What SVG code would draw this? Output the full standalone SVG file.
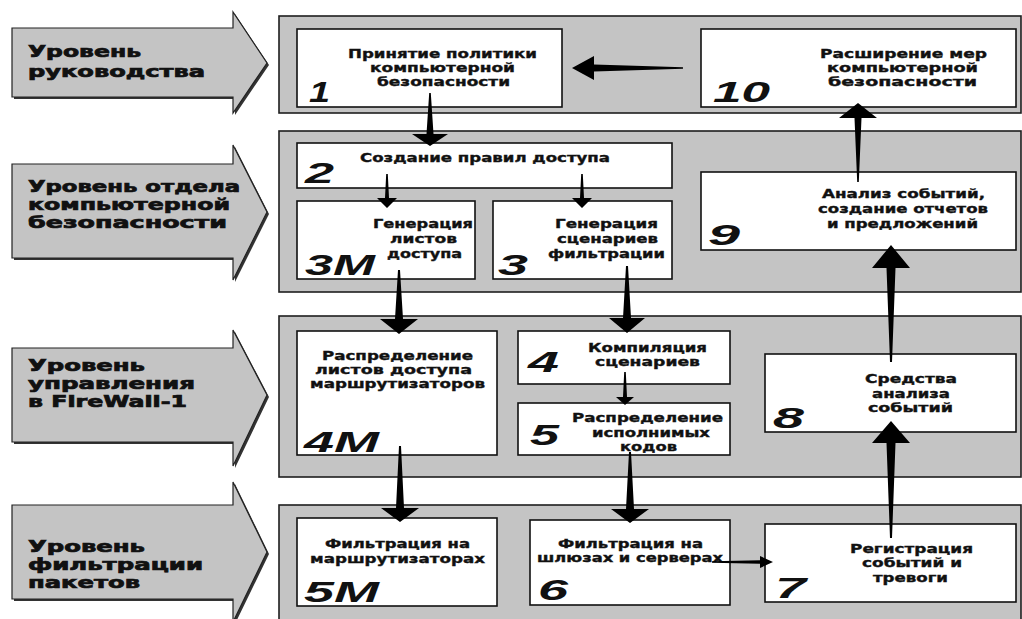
<svg xmlns="http://www.w3.org/2000/svg" width="1022" height="619" viewBox="0 0 1022 619">
<style>
.band{fill:#c4c4c4;stroke:#1e1e1e;stroke-width:1.6}
.box{fill:#ffffff;stroke:#111;stroke-width:1.6}
.lvl{fill:#c4c4c4;stroke:#222;stroke-width:1.2}
.shadow{fill:#333}
.lt{font-family:"DejaVu Sans",sans-serif;font-weight:bold;font-size:15px;fill:#111;stroke:#111;stroke-width:0.7}
.bt{font-family:"DejaVu Sans",sans-serif;font-weight:bold;font-size:11.5px;fill:#111;stroke:#111;stroke-width:0.35}
.num{font-family:"Liberation Sans",sans-serif;font-weight:bold;font-style:italic;font-size:30px;fill:#111}
.arr{fill:#000}
</style>
<rect width="1022" height="619" fill="#ffffff"/>

<!-- level bands -->
<g id="bands">
<rect class="band" x="279" y="16" width="742" height="97"/>
<rect class="band" x="279" y="131" width="742" height="161"/>
<rect class="band" x="279" y="316" width="742" height="161"/>
<rect class="band" x="279" y="505" width="742" height="120"/>
</g>

<!-- level arrows -->
<g id="level1">
<polygon class="shadow" points="14,30 235,30 235,14 269,65 235,115 235,99 14,99"/>
<polygon class="lvl" points="12,28 233,28 233,12 267,63 233,113 233,97 12,97"/>
<text class="lt" x="28" y="57" textLength="113" lengthAdjust="spacingAndGlyphs">Уровень</text>
<text class="lt" x="28" y="77" textLength="177" lengthAdjust="spacingAndGlyphs">руководства</text>
</g>
<g id="level2">
<polygon class="shadow" points="14,166 235,166 235,147 269,214 235,282 235,260 14,260"/>
<polygon class="lvl" points="12,164 233,164 233,145 267,212 233,280 233,258 12,258"/>
<text class="lt" x="28" y="192" textLength="212" lengthAdjust="spacingAndGlyphs">Уровень отдела</text>
<text class="lt" x="28" y="210" textLength="202" lengthAdjust="spacingAndGlyphs">компьютерной</text>
<text class="lt" x="28" y="228" textLength="199" lengthAdjust="spacingAndGlyphs">безопасности</text>
</g>
<g id="level3">
<polygon class="shadow" points="14,350 235,350 235,332 269,397 235,468 235,444 14,444"/>
<polygon class="lvl" points="12,348 233,348 233,330 267,395 233,466 233,442 12,442"/>
<text class="lt" x="28" y="371" textLength="117" lengthAdjust="spacingAndGlyphs">Уровень</text>
<text class="lt" x="28" y="389" textLength="167" lengthAdjust="spacingAndGlyphs">управления</text>
<text class="lt" x="28" y="407" textLength="159" lengthAdjust="spacingAndGlyphs">в FireWall-1</text>
</g>
<g id="level4">
<polygon class="shadow" points="14,507 235,507 235,484 269,554 235,624 235,601 14,601"/>
<polygon class="lvl" points="12,505 233,505 233,482 267,552 233,622 233,599 12,599"/>
<text class="lt" x="28" y="552" textLength="117" lengthAdjust="spacingAndGlyphs">Уровень</text>
<text class="lt" x="28" y="570" textLength="175" lengthAdjust="spacingAndGlyphs">фильтрации</text>
<text class="lt" x="28" y="588" textLength="112" lengthAdjust="spacingAndGlyphs">пакетов</text>
</g>

<!-- nodes -->
<g id="n1">
<rect class="box" x="297" y="29" width="265" height="78"/>
<text class="bt" x="348" y="58" textLength="189" lengthAdjust="spacingAndGlyphs">Принятие политики</text>
<text class="bt" x="370" y="72" textLength="145" lengthAdjust="spacingAndGlyphs">компьютерной</text>
<text class="bt" x="377" y="86" textLength="133" lengthAdjust="spacingAndGlyphs">безопасности</text>
<text class="num" x="309" y="102" textLength="21" lengthAdjust="spacingAndGlyphs">1</text>
</g>
<g id="n10">
<rect class="box" x="701" y="29" width="315" height="78"/>
<text class="bt" x="820" y="58" textLength="167" lengthAdjust="spacingAndGlyphs">Расширение мер</text>
<text class="bt" x="827" y="72" textLength="151" lengthAdjust="spacingAndGlyphs">компьютерной</text>
<text class="bt" x="828" y="86" textLength="149" lengthAdjust="spacingAndGlyphs">безопасности</text>
<text class="num" x="713" y="102" textLength="57" lengthAdjust="spacingAndGlyphs">10</text>
</g>
<g id="n2">
<rect class="box" x="297" y="143" width="375" height="45"/>
<text class="bt" x="360" y="162" textLength="250" lengthAdjust="spacingAndGlyphs">Создание правил доступа</text>
<text class="num" x="305" y="183" textLength="29" lengthAdjust="spacingAndGlyphs">2</text>
</g>
<g id="n3M">
<rect class="box" x="297" y="201" width="178" height="78"/>
<text class="bt" x="373" y="228" textLength="100" lengthAdjust="spacingAndGlyphs">Генерация</text>
<text class="bt" x="390" y="243" textLength="67" lengthAdjust="spacingAndGlyphs">листов</text>
<text class="bt" x="387" y="258" textLength="75" lengthAdjust="spacingAndGlyphs">доступа</text>
<text class="num" x="305" y="275" textLength="70" lengthAdjust="spacingAndGlyphs">3M</text>
</g>
<g id="n3">
<rect class="box" x="493" y="201" width="179" height="78"/>
<text class="bt" x="555" y="228" textLength="103" lengthAdjust="spacingAndGlyphs">Генерация</text>
<text class="bt" x="557" y="243" textLength="101" lengthAdjust="spacingAndGlyphs">сценариев</text>
<text class="bt" x="548" y="258" textLength="117" lengthAdjust="spacingAndGlyphs">фильтрации</text>
<text class="num" x="498" y="275" textLength="30" lengthAdjust="spacingAndGlyphs">3</text>
</g>
<g id="n9">
<rect class="box" x="701" y="172" width="315" height="78"/>
<text class="bt" x="822" y="198" textLength="163" lengthAdjust="spacingAndGlyphs">Анализ событий,</text>
<text class="bt" x="818" y="213" textLength="170" lengthAdjust="spacingAndGlyphs">создание отчетов</text>
<text class="bt" x="827" y="228" textLength="151" lengthAdjust="spacingAndGlyphs">и предложений</text>
<text class="num" x="708" y="245" textLength="32" lengthAdjust="spacingAndGlyphs">9</text>
</g>
<g id="n4M">
<rect class="box" x="297" y="331" width="200" height="124"/>
<text class="bt" x="322" y="360" textLength="151" lengthAdjust="spacingAndGlyphs">Распределение</text>
<text class="bt" x="315" y="374" textLength="157" lengthAdjust="spacingAndGlyphs">листов доступа</text>
<text class="bt" x="310" y="388" textLength="175" lengthAdjust="spacingAndGlyphs">маршрутизаторов</text>
<text class="num" x="304" y="452" textLength="75" lengthAdjust="spacingAndGlyphs">4M</text>
</g>
<g id="n4">
<rect class="box" x="518" y="331" width="212" height="53"/>
<text class="bt" x="588" y="352" textLength="119" lengthAdjust="spacingAndGlyphs">Компиляция</text>
<text class="bt" x="595" y="366" textLength="105" lengthAdjust="spacingAndGlyphs">сценариев</text>
<text class="num" x="528" y="372" textLength="31" lengthAdjust="spacingAndGlyphs">4</text>
</g>
<g id="n5">
<rect class="box" x="518" y="403" width="212" height="52"/>
<text class="bt" x="572" y="422" textLength="151" lengthAdjust="spacingAndGlyphs">Распределение</text>
<text class="bt" x="592" y="437" textLength="118" lengthAdjust="spacingAndGlyphs">исполнимых</text>
<text class="bt" x="620" y="451" textLength="57" lengthAdjust="spacingAndGlyphs">кодов</text>
<text class="num" x="530" y="445" textLength="29" lengthAdjust="spacingAndGlyphs">5</text>
</g>
<g id="n8">
<rect class="box" x="765" y="354" width="251" height="78"/>
<text class="bt" x="865" y="383" textLength="92" lengthAdjust="spacingAndGlyphs">Средства</text>
<text class="bt" x="872" y="398" textLength="78" lengthAdjust="spacingAndGlyphs">анализа</text>
<text class="bt" x="868" y="412" textLength="85" lengthAdjust="spacingAndGlyphs">событий</text>
<text class="num" x="773" y="428" textLength="31" lengthAdjust="spacingAndGlyphs">8</text>
</g>
<g id="n5M">
<rect class="box" x="297" y="518" width="200" height="88"/>
<text class="bt" x="325" y="548" textLength="145" lengthAdjust="spacingAndGlyphs">Фильтрация на</text>
<text class="bt" x="310" y="563" textLength="175" lengthAdjust="spacingAndGlyphs">маршрутизаторах</text>
<text class="num" x="304" y="602" textLength="75" lengthAdjust="spacingAndGlyphs">5M</text>
</g>
<g id="n6">
<rect class="box" x="530" y="520" width="200" height="85"/>
<text class="bt" x="558" y="548" textLength="145" lengthAdjust="spacingAndGlyphs">Фильтрация на</text>
<text class="bt" x="537" y="562" textLength="186" lengthAdjust="spacingAndGlyphs">шлюзах и серверах</text>
<text class="num" x="538" y="600" textLength="30" lengthAdjust="spacingAndGlyphs">6</text>
</g>
<g id="n7">
<rect class="box" x="765" y="524" width="251" height="78"/>
<text class="bt" x="850" y="553" textLength="123" lengthAdjust="spacingAndGlyphs">Регистрация</text>
<text class="bt" x="862" y="567" textLength="100" lengthAdjust="spacingAndGlyphs">событий и</text>
<text class="bt" x="873" y="582" textLength="75" lengthAdjust="spacingAndGlyphs">тревоги</text>
<text class="num" x="775" y="598" textLength="31" lengthAdjust="spacingAndGlyphs">7</text>
</g>

<!-- connectors -->
<g id="connectors">
<polygon class="arr" points="429.2,93 430.8,93 433.5,134 448,134 430,146 412,134 426.5,134"/>
<polygon class="arr" points="683,67.2 683,68.8 594,71.5 594,80 572,68 594,56 594,64.5"/>
<polygon class="arr" points="386.2,174 387.8,174 389,198 397,198 387,208 377,198 385,198"/>
<polygon class="arr" points="581.2,174 582.8,174 584,198 592,198 582,208 572,198 580,198"/>
<polygon class="arr" points="398,270 400,270 403,319 418,319 399,334 380,319 395,319"/>
<polygon class="arr" points="626,266 628,266 631,318 645,318 627,333 609,318 623,318"/>
<polygon class="arr" points="624.2,372 625.8,372 627,397 634,397 625,405 616,397 623,397"/>
<polygon class="arr" points="399,446 401,446 404,508 419,508 400,522 381,508 396,508"/>
<polygon class="arr" points="629,452 631,452 634,509 649,509 630,523 611,509 626,509"/>
<polygon class="arr" points="712,561.2 712,562.8 760,563.8 760,568 773,562 760,556 760,560.2"/>
<polygon class="arr" points="890,538 892,538 895.5,443 910,443 891,421 872,443 886.5,443"/>
<polygon class="arr" points="890,362 892,362 895.5,268 910,268 891,245 872,268 886.5,268"/>
<polygon class="arr" points="857.2,182 858.8,182 861.5,118 877,118 858,103 839,118 854.5,118"/>
</g>
</svg>
